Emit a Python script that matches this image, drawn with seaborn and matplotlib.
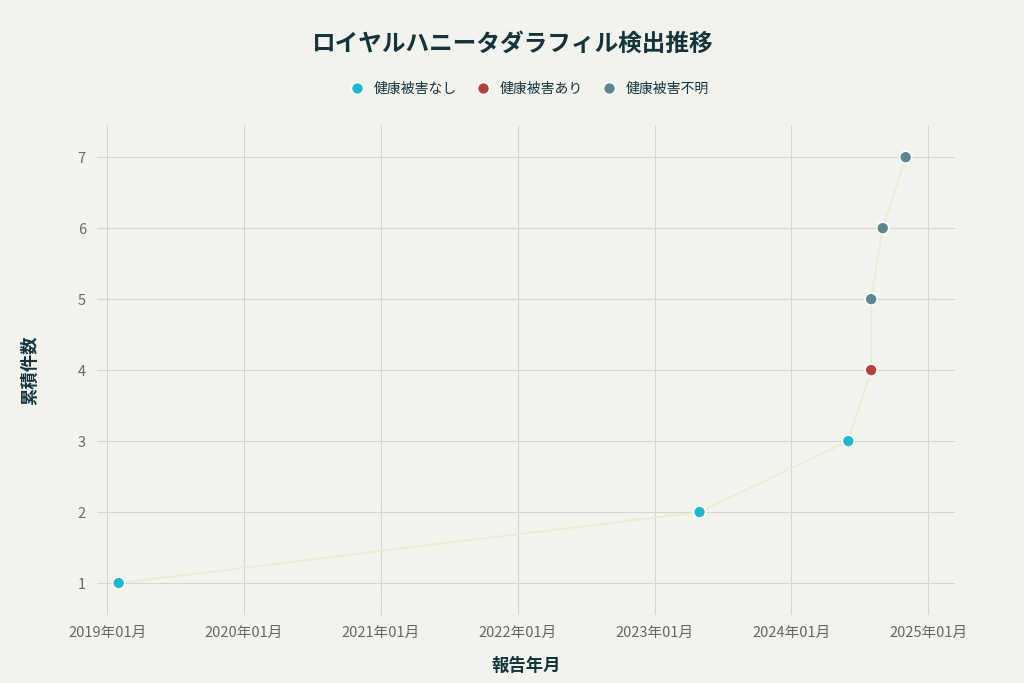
import pandas as pd
import matplotlib.pyplot as plt
import matplotlib.dates as mdates
import seaborn as sns

# データ
dates = ['2019-02-01', '2023-05-01', '2024-06-01', '2024-08-01', '2024-08-01', '2024-09-01', '2024-11-01']
counts = [1, 2, 3, 4, 5, 6, 7]
status = ['健康被害なし', '健康被害なし', '健康被害なし', '健康被害あり', '健康被害不明', '健康被害不明', '健康被害不明']
categories = ['健康被害なし', '健康被害あり', '健康被害不明']
colors = ['#1FB8CD', '#B4413C', '#5D878F']

df = pd.DataFrame({'報告年月': pd.to_datetime(dates), '累積件数': counts, '状態': status})

sns.set_theme(style='whitegrid')
plt.rcParams['font.family'] = ['Noto Sans CJK JP', 'DejaVu Sans']

bg = '#F3F3EE'
fig = plt.figure(figsize=(10.24, 6.83), dpi=100, facecolor=bg)
ax = fig.add_axes([0.0947, 0.0996, 0.838, 0.717])
ax.set_facecolor(bg)

# 折れ線（重複した日付も平均せずにそのまま結ぶ）
sns.lineplot(data=df, x='報告年月', y='累積件数', estimator=None, sort=False,
             color='#ECEAD2', linewidth=1.3, ax=ax, zorder=2)
sns.scatterplot(data=df, x='報告年月', y='累積件数', hue='状態', hue_order=categories,
                palette=colors, s=75, edgecolor='white', linewidth=1.2, ax=ax, zorder=3)

ax.set_xlim(pd.Timestamp('2018-12-05'), pd.Timestamp('2025-03-13'))
ax.set_ylim(0.55, 7.45)
ax.set_yticks(range(1, 8))
ax.xaxis.set_major_locator(mdates.YearLocator())
ax.xaxis.set_major_formatter(mdates.DateFormatter('%Y年%m月'))

ax.grid(True, color='#D5D5D0', linewidth=0.8)
for s in ax.spines.values():
    s.set_visible(False)
ax.tick_params(axis='both', colors='#666666', labelsize=10.5, length=0, pad=8)

ax.set_xlabel('報告年月', fontsize=12.5, fontweight='bold', color='#13343B', labelpad=12)
ax.set_ylabel('累積件数', fontsize=12.5, fontweight='bold', color='#13343B', labelpad=28)

fig.suptitle('ロイヤルハニータダラフィル検出推移', fontsize=17, fontweight='bold', color='#13343B', y=0.953)

handles, labels = ax.get_legend_handles_labels()
ax.legend(handles, labels, loc='center', bbox_to_anchor=(0.5, 1.075), ncol=3, frameon=False,
          fontsize=10, handletextpad=0.2, columnspacing=0.9, labelcolor='#13343B')

fig.savefig('out.png', dpi=100, facecolor=bg)
